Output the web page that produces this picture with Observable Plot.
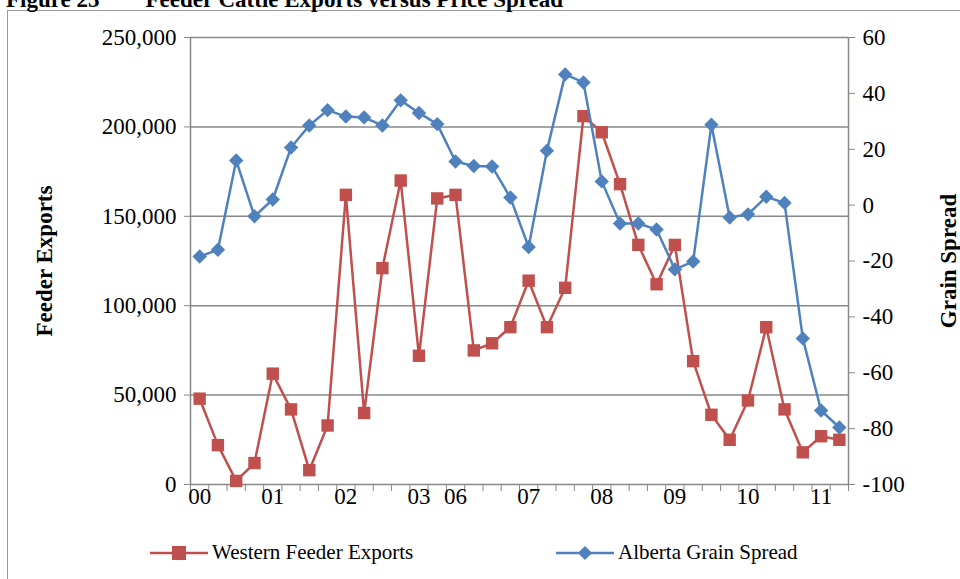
<!DOCTYPE html>
<html>
<head>
<meta charset="utf-8">
<script src="https://cdn.jsdelivr.net/npm/d3@7"></script>
<script src="https://cdn.jsdelivr.net/npm/@observablehq/plot@0.6"></script>
<style>
  body { margin: 0; background: #fff; font-family: "Liberation Serif", serif; }
  #wrap { position: relative; width: 960px; height: 579px; overflow: hidden; }
  #title { position: absolute; left: 6px; top: -13px; font-weight: bold; font-size: 23px; white-space: pre; }
  #box { position: absolute; left: 7px; top: 10px; width: 1000px; height: 600px; border: 1px solid #999; }
  #chart { position: absolute; left: 0; top: 0; }
  #legend { position: absolute; top: 540px; left: 0; width: 960px; font-size: 21px; }
  .item { position: absolute; display: flex; align-items: center; gap: 4px; }
</style>
</head>
<body>
<div id="wrap">
  <div id="box"></div>
  <div id="title">Figure 23        Feeder Cattle Exports versus Price Spread</div>
  <div id="chart"></div>
  <div id="legend">
    <div class="item" style="left:150px"><svg width="58" height="16"><line x1="0" y1="8" x2="58" y2="8" stroke="#C0504D" stroke-width="2.5"/><rect x="22" y="1" width="14" height="14" fill="#C0504D"/></svg>Western Feeder Exports</div>
    <div class="item" style="left:556px"><svg width="58" height="16"><line x1="0" y1="8" x2="58" y2="8" stroke="#4F81BD" stroke-width="2.5"/><rect x="24" y="3" width="10" height="10" fill="#4F81BD" transform="rotate(45 29 8)"/></svg>Alberta Grain Spread</div>
  </div>
</div>
<script>
// quarterly points; labels sit on every 4th point (03 -> 06 jump as in source)
const tickIdx = [0, 4, 8, 12, 14, 18, 22, 26, 30, 34]
const tickLabels = ["00", "01", "02", "03", "06", "07", "08", "09", "10", "11"]

const exports = [48000, 22000, 2000, 12000, 62000, 42000, 8000, 33000, 162000, 40000,
  121000, 170000, 72000, 160000, 162000, 75000, 79000, 88000, 114000, 88000,
  110000, 206000, 197000, 168000, 134000, 112000, 134000, 69000, 39000, 25000,
  47000, 88000, 42000, 18000, 27000, 25000]

const spread = [-18.4, -16, 16, -4, 2, 20.6, 28.5, 34, 31.7, 31.4,
  28.5, 37.5, 33, 29, 15.6, 14, 13.8, 2.7, -15, 19.5,
  46.8, 43.9, 8.5, -6.6, -6.6, -8.7, -23, -20.2, 28.8, -4.4,
  -3.3, 3, 0.8, -47.7, -73.5, -79.6]

const toLeft = v => (v + 100) / 160 * 250000
const toRight = v => v / 250000 * 160 - 100

const red = exports.map((v, i) => ({i, v}))
const blue = spread.map((v, i) => ({i, v: toLeft(v)}))
const bounds = d3.range(-0.5, 36, 1)

const chart = Plot.plot({
  width: 960,
  height: 536,
  marginLeft: 190,
  marginRight: 112,
  marginTop: 37,
  marginBottom: 52,
  style: {fontFamily: "Liberation Serif", fontSize: "23px", color: "#000", overflow: "visible"},
  x: {domain: [-0.5, 35.5]},
  y: {domain: [0, 250000]},
  marks: [
    Plot.gridY(d3.range(50000, 250001, 50000), {stroke: "#888", strokeOpacity: 1, strokeWidth: 1.5}),
    Plot.ruleY([0], {stroke: "#888", strokeWidth: 1.5}),
    Plot.ruleX([-0.5, 35.5], {stroke: "#888", strokeWidth: 1.5}),
    Plot.axisX(bounds, {tickSize: 7, tickFormat: () => "", stroke: "#888", label: null}),
    Plot.axisX(tickIdx, {tickSize: 0, tickPadding: 3, tickFormat: (d, k) => tickLabels[k], label: null, fontSize: 23}),
    Plot.axisY(d3.range(0, 250001, 50000), {anchor: "left", tickSize: 6, stroke: "#888", tickPadding: 8,
      tickFormat: d3.format(","), label: null, fontSize: 23}),
    Plot.axisY(d3.range(-100, 61, 20).map(toLeft), {anchor: "right", tickSize: 6, stroke: "#888", tickPadding: 8,
      tickFormat: d => String(Math.round(toRight(d))), label: null, fontSize: 23}),
    Plot.text(["Feeder Exports"], {frameAnchor: "left", textAnchor: "middle", dx: -146, rotate: -90, fontWeight: "bold", fontSize: 23}),
    Plot.text(["Grain Spread"], {frameAnchor: "right", textAnchor: "middle", dx: 100, rotate: -90, fontWeight: "bold", fontSize: 23}),
    Plot.line(red, {x: "i", y: "v", stroke: "#C0504D", strokeWidth: 2.5}),
    Plot.dot(red, {x: "i", y: "v", symbol: "square", r: 7, fill: "#C0504D"}),
    Plot.line(blue, {x: "i", y: "v", stroke: "#4F81BD", strokeWidth: 2.5}),
    Plot.dot(blue, {x: "i", y: "v", symbol: "diamond2", r: 6.5, fill: "#4F81BD"})
  ]
})
d3.select('#chart').append(() => chart)
</script>
</body>
</html>
